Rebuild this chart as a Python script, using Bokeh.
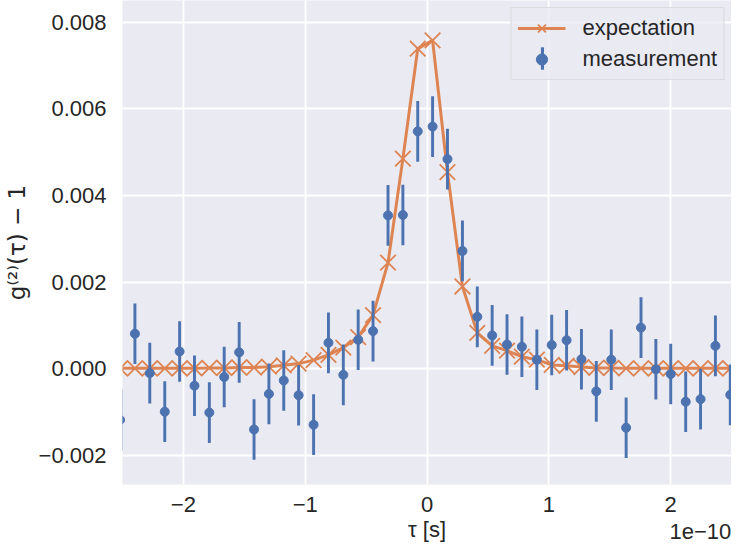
from bokeh.plotting import figure
from bokeh.models import (Range1d, FixedTicker, CustomJSTickFormatter, Legend,
                          LegendItem, LinearAxis, ColumnDataSource)
from bokeh.embed import file_html
from bokeh.resources import INLINE

# time delay tau, in units of 1e-10 s
tau = [-2.520, -2.398, -2.276, -2.153, -2.031, -1.909, -1.787, -1.665, -1.542,
       -1.420, -1.298, -1.176, -1.054, -0.931, -0.809, -0.687, -0.565, -0.443,
       -0.320, -0.198, -0.076, 0.046, 0.168, 0.291, 0.413, 0.535, 0.657, 0.779,
       0.902, 1.024, 1.146, 1.268, 1.390, 1.513, 1.635, 1.757, 1.879, 2.001,
       2.124, 2.246, 2.368, 2.490]

measurement = [-0.00118, 0.00081, -0.00010, -0.00099, 0.00040, -0.00039, -0.00101,
               -0.00019, 0.00038, -0.00140, -0.00058, -0.00027, -0.00061, -0.00129,
               0.00060, -0.00014, 0.00067, 0.00087, 0.00354, 0.00355, 0.00548,
               0.00559, 0.00484, 0.00272, 0.00120, 0.00077, 0.00056, 0.00051,
               0.00021, 0.00055, 0.00066, 0.00022, -0.00052, 0.00021, -0.00136,
               0.00095, -0.00001, -0.00012, -0.00076, -0.00070, 0.00053, -0.00060]

measurement_err = 0.0007

expectation = [0.00001, 0.00001, 0.00001, 0.00001, 0.00001, 0.00001, 0.00002,
               0.00002, 0.00003, 0.00003, 0.00005, 0.00008, 0.00012, 0.00020,
               0.00032, 0.00049, 0.00073, 0.00124, 0.00245, 0.00485, 0.00739,
               0.00758, 0.00454, 0.00190, 0.00083, 0.00053, 0.00042, 0.00028,
               0.00021, 0.00009, 0.00007, 0.00004, 0.00002, 0.00002, 0.00001,
               0.00001, 0.00001, 0.00001, 0.00001, 0.00001, 0.00001, 0.00001]

x_ticks = [-2, -1, 0, 1, 2]
y_ticks = [-0.002, 0.000, 0.002, 0.004, 0.006, 0.008]
offset_tick = [2.245]          # where the "1e-10" offset text sits
x_label = "τ [s]"
y_label = "g⁽²⁾(τ) − 1"
x_offset_label = "1e−10"
series_labels = ["expectation", "measurement"]

BLUE = "#4C72B0"
ORANGE = "#DD8452"
TEXT = "#262626"
FONT = "Liberation Sans"

src = ColumnDataSource(dict(
    tau=tau,
    meas=measurement,
    lo=[m - measurement_err for m in measurement],
    hi=[m + measurement_err for m in measurement],
    expect=expectation,
))

p = figure(width=731, height=544, output_backend="svg", toolbar_location=None,
           x_range=Range1d(-2.5, 2.5), y_range=Range1d(-0.00267, 0.0085),
           min_border_left=117, min_border_right=0, min_border_top=0,
           min_border_bottom=50, background_fill_color="#EAEAF2",
           border_fill_color="white", outline_line_color=None)

p.xaxis.ticker = FixedTicker(ticks=x_ticks)
p.yaxis.ticker = FixedTicker(ticks=y_ticks)
p.xgrid.ticker = FixedTicker(ticks=x_ticks)
p.ygrid.ticker = FixedTicker(ticks=y_ticks)
p.grid.grid_line_color = "white"
p.grid.grid_line_width = 1.8

p.xaxis.formatter = CustomJSTickFormatter(
    code="return (tick < -1e-9 ? '\u2212' : '') + Math.abs(tick).toFixed(0);")
p.yaxis.formatter = CustomJSTickFormatter(
    code="return (tick < -1e-9 ? '\u2212' : '') + Math.abs(tick).toFixed(3);")

for ax in (p.xaxis, p.yaxis):
    ax.axis_line_color = None
    ax.major_tick_line_color = None
    ax.minor_tick_line_color = None
    ax.major_tick_out = 0
    ax.major_tick_in = 0
    ax.major_label_text_font = FONT
    ax.major_label_text_font_size = "22px"
    ax.major_label_text_color = TEXT
    ax.axis_label_text_color = TEXT
    ax.axis_label_text_font_style = "normal"

p.yaxis.major_label_standoff = 16
p.xaxis.major_label_standoff = 12
p.xaxis.axis_label = x_label
p.xaxis.axis_label_text_font = FONT
p.xaxis.axis_label_text_font_size = "22px"
p.xaxis.axis_label_standoff = 2
p.yaxis.axis_label = y_label
p.yaxis.axis_label_text_font = "DejaVu Sans"
p.yaxis.axis_label_text_font_size = "23px"
p.yaxis.axis_label_standoff = 6

# offset text "1e-10" at the lower right, in the row of the axis title
offset_axis = LinearAxis(ticker=FixedTicker(ticks=offset_tick),
                         formatter=CustomJSTickFormatter(
                             code="return %r;" % x_offset_label),
                         axis_line_color=None, major_tick_line_color=None,
                         minor_tick_line_color=None, major_tick_out=0,
                         major_tick_in=0, major_label_standoff=-21,
                         major_label_text_font=FONT,
                         major_label_text_font_size="22px",
                         major_label_text_color=TEXT)
p.add_layout(offset_axis, "below")

r_line = p.line("tau", "expect", source=src, line_color=ORANGE, line_width=3)
r_x = p.scatter("tau", "expect", source=src, marker="x", size=22,
                line_color=ORANGE, line_width=1.8)
r_err = p.vbar(x="tau", top="hi", bottom="lo", width=0.024, source=src,
               fill_color=BLUE, line_alpha=0)
r_dot = p.scatter("tau", "meas", source=src, marker="circle", size=9,
                  fill_color=BLUE, line_color=BLUE)

# invisible legend-only key (no data), keeps the second legend's rows aligned
r_blank_key = p.vbar(x=[], top=[], bottom=[], width=0.02, fill_alpha=0, line_alpha=0)

common = dict(location="top_right", margin=7, padding=6, spacing=3,
              glyph_height=28, label_height=28, label_text_font=FONT,
              label_text_font_size="22px", label_text_color=TEXT)

legend = Legend(items=[LegendItem(label=series_labels[0], renderers=[r_line, r_x]),
                       LegendItem(label=series_labels[1], renderers=[r_dot])],
                glyph_width=48, label_standoff=17,
                background_fill_color="#EAEAF2", background_fill_alpha=0.8,
                border_line_color="#cccccc", border_line_width=1, **common)
p.add_layout(legend)

# narrow-glyph legend overlaid on the first: vertical error-bar key
bar_legend = Legend(items=[LegendItem(label=" ", renderers=[r_blank_key]),
                           LegendItem(label=" ", renderers=[r_err])],
                    glyph_width=4, label_standoff=39, label_width=135,
                    background_fill_alpha=0, border_line_alpha=0, **common)
p.add_layout(bar_legend)

with open("out.html", "w", encoding="utf-8") as f:
    f.write(file_html(p, INLINE))
